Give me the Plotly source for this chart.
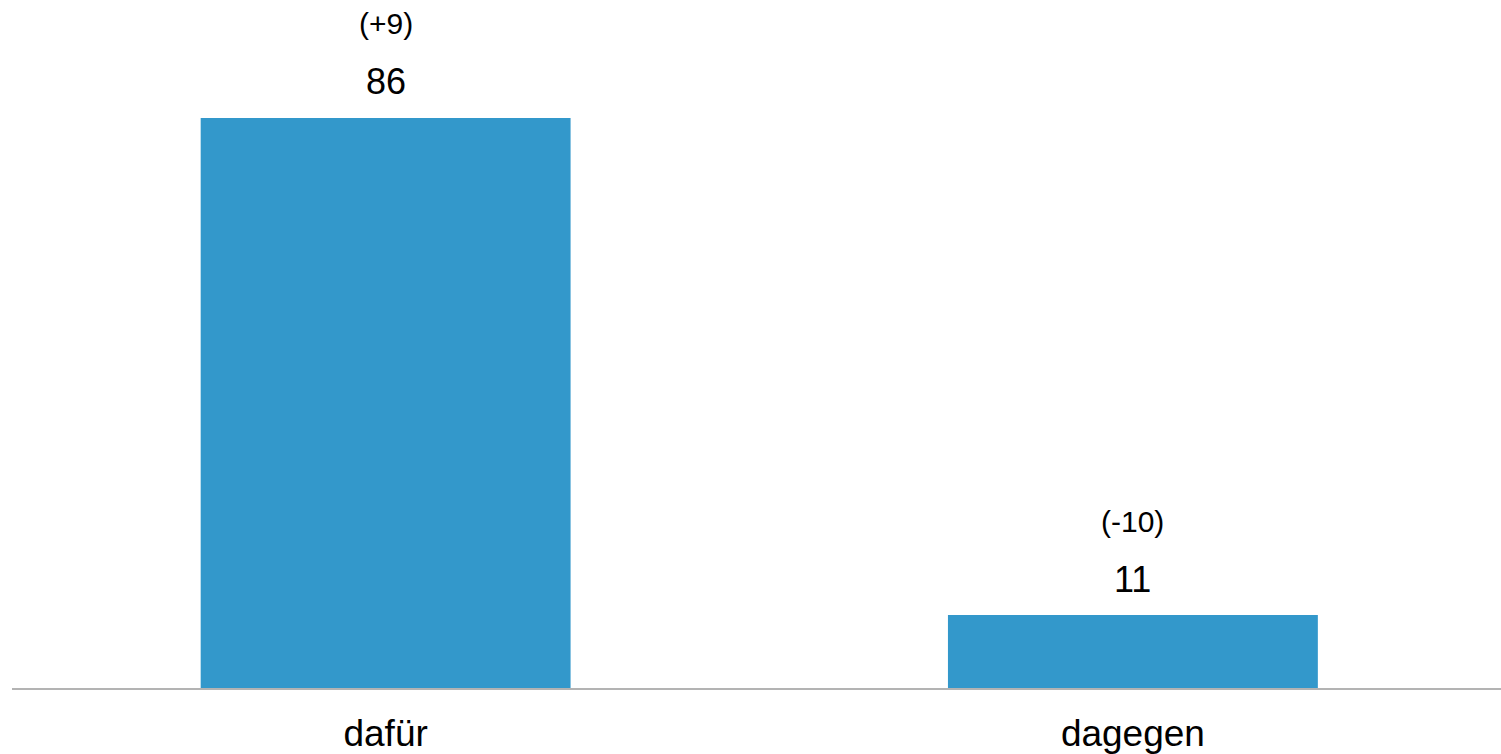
import plotly.graph_objects as go

# Survey result: share for / against, with change versus previous wave
categories = ["dafür", "dagegen"]
values = [86, 11]
changes = ["(+9)", "(-10)"]

BAR_COLOR = "#3398cb"
FONT = "Liberation Sans, Arial, sans-serif"

fig = go.Figure(
    go.Bar(
        x=categories,
        y=values,
        width=0.495,
        marker=dict(color=BAR_COLOR, line=dict(width=0)),
        hoverinfo="skip",
    )
)

annotations = []
for cat, val, chg in zip(categories, values, changes):
    annotations.append(dict(
        x=cat, y=val, xref="x", yref="y", text=str(val), showarrow=False,
        yanchor="middle", yshift=36, font=dict(family=FONT, size=36, color="#000000"),
    ))
    annotations.append(dict(
        x=cat, y=val, xref="x", yref="y", text=chg, showarrow=False,
        yanchor="middle", yshift=94, font=dict(family=FONT, size=30, color="#000000"),
    ))

fig.update_layout(
    width=1501,
    height=754,
    margin=dict(l=12, r=0, t=0, b=64),
    paper_bgcolor="white",
    plot_bgcolor="white",
    showlegend=False,
    annotations=annotations,
    xaxis=dict(
        type="category",
        range=[-0.5, 1.4926],
        showline=True,
        linecolor="#b3b3b3",
        linewidth=2,
        showgrid=False,
        zeroline=False,
        ticks="",
        ticklabelstandoff=12,
        tickfont=dict(family=FONT, size=37, color="#000000"),
    ),
    yaxis=dict(
        range=[0, 103.8],
        visible=False,
        showgrid=False,
        zeroline=False,
    ),
)

fig.write_html("out.html")
